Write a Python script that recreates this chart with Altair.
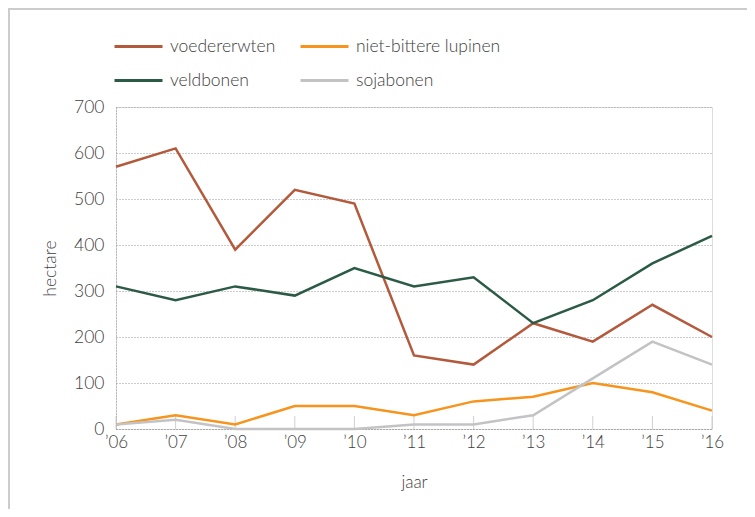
import altair as alt
import pandas as pd

years = [2006, 2007, 2008, 2009, 2010, 2011, 2012, 2013, 2014, 2015, 2016]
series_names = ["voedererwten", "niet-bittere lupinen", "veldbonen", "sojabonen"]
legend_order = ["voedererwten", "veldbonen", "niet-bittere lupinen", "sojabonen"]
voedererwten = [570, 610, 390, 520, 490, 160, 140, 230, 190, 270, 200]
lupinen = [10, 30, 10, 50, 50, 30, 60, 70, 100, 80, 40]
veldbonen = [310, 280, 310, 290, 350, 310, 330, 230, 280, 360, 420]
sojabonen = [10, 20, 0, 0, 0, 10, 10, 30, 110, 190, 140]
color_map = {"voedererwten": "#b35a3c", "niet-bittere lupinen": "#f7941d",
             "veldbonen": "#2b5a45", "sojabonen": "#c3c3c6"}
y_ticks = [0, 100, 200, 300, 400, 500, 600, 700]

rows = []
for name, vals in zip(series_names, [voedererwten, lupinen, veldbonen, sojabonen]):
    for yr, v in zip(years, vals):
        rows.append({"jaar": yr, "gewas": name, "hectare": v})
df = pd.DataFrame(rows)
ticks_df = pd.DataFrame({"jaar": years})

FONT = "Lato"
GREY = "#404040"
W = 300

xscale = alt.Scale(domain=[2006, 2016], nice=False, zero=False)
yscale = alt.Scale(domain=[0, 700], nice=False)

lines = alt.Chart(df).mark_line(strokeWidth=2.5).encode(
    x=alt.X("jaar:Q", scale=xscale, title="jaar",
            axis=alt.Axis(values=years, labelExpr="'\u2019' + substring(toString(datum.value), 2)",
                          ticks=False, grid=False, domain=True, domainDash=[1, 2],
                          domainColor="#999999", labelFontSize=17, labelColor=GREY,
                          labelFontWeight=W, titleFontWeight=W, labelFlush=False,
                          labelOverlap=False,
                          labelPadding=5, titleFontSize=17, titleColor=GREY,
                          titlePadding=24, labelFont=FONT, titleFont=FONT)),
    y=alt.Y("hectare:Q", scale=yscale, title="hectare",
            axis=alt.Axis(values=y_ticks, ticks=False, grid=True, gridDash=[1, 2],
                          gridColor="#999999", domain=True, domainDash=[1, 2],
                          domainColor="#999999", labelFontSize=17.5, labelColor=GREY,
                          labelFontWeight=W, titleFontWeight=W, labelFlush=False,
                          labelPadding=12, titleFontSize=17.5, titleColor=GREY,
                          titlePadding=14, labelFont=FONT, titleFont=FONT)),
    color=alt.Color("gewas:N",
                    scale=alt.Scale(domain=legend_order, range=[color_map[n] for n in legend_order]),
                    sort=legend_order,
                    legend=alt.Legend(title=None, orient="none", legendX=-3, legendY=-86,
                                      columns=2, symbolType="stroke", symbolSize=2304,
                                      symbolStrokeWidth=3, labelFontSize=17.5, labelColor=GREY,
                                      labelFontWeight=W,
                                      labelFont=FONT, columnPadding=18, rowPadding=-23,
                                      labelOffset=6)),
)

tick_marks = alt.Chart(ticks_df).mark_tick(orient="vertical", size=13, yOffset=-6.5,
                                           thickness=1, color="#bbbbbb").encode(
    x=alt.X("jaar:Q", scale=xscale),
    y=alt.datum(0),
)

frame_left = alt.Chart(ticks_df).mark_rule(color="#cccccc", strokeWidth=2).encode(
    x=alt.value(-107), y=alt.value(-98), y2=alt.value(420))
frame_top = alt.Chart(ticks_df).mark_rule(color="#cccccc", strokeWidth=2).encode(
    x=alt.value(-108), x2=alt.value(650), y=alt.value(-98))

chart = alt.layer(frame_left, frame_top, tick_marks, lines).properties(
    width=596, height=322,
    padding={"left": 108, "top": 99, "right": 35, "bottom": 80},
    autosize=alt.AutoSizeParams(type="none"),
).configure_view(stroke=None).configure(background="white")

chart.save("out.html", embed_options={"renderer": "svg", "actions": False})
